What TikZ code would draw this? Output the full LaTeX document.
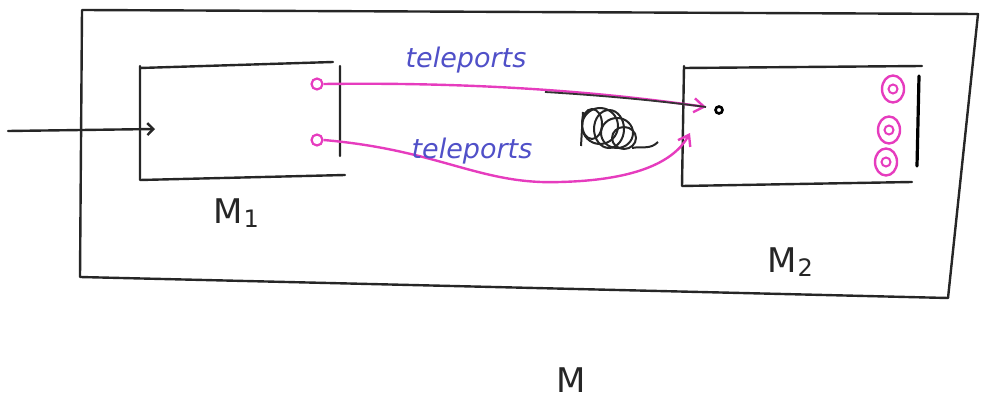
\documentclass[tikz,border=0pt]{standalone}
\usepackage{fontspec}
\setmainfont{DejaVu Sans}
\usetikzlibrary{arrows.meta,shapes.geometric}
\definecolor{pinkc}{RGB}{230,60,190}
\definecolor{bluec}{RGB}{80,80,200}
\tikzset{
  hand/.style={draw=black!85, line width=2.4pt, line cap=round, line join=round},
  conn/.style={draw=pinkc, line width=2.4pt, -{Straight Barb[length=10pt,width=14pt]}},
  port/.style={circle, draw=pinkc, line width=2.2pt, minimum size=11pt, inner sep=0pt},
  dport/.style={ellipse, draw=pinkc, line width=2.4pt, minimum width=22pt, minimum height=27pt, inner sep=0pt},
  dinner/.style={circle, draw=pinkc, line width=2pt, minimum size=9pt, inner sep=0pt},
  lbl/.style={font=\fontsize{34}{36}\selectfont, text=black!85},
  tlbl/.style={font=\fontsize{27}{30}\selectfont\itshape, text=bluec}
}
\newcommand{\sbs}[1]{\kern1pt\raisebox{-4pt}{\fontsize{24}{24}\selectfont #1}}
\begin{document}
\begin{tikzpicture}[x=1pt,y=-1pt]
\useasboundingbox (0,0) rectangle (981,403);
% outer box M
\draw[hand] (82,10) -- (978,14) -- (948,298) -- (80,277) -- cycle;
% M1 box
\draw[hand] (140,68) -- (333,62) (340,66) -- (340,156) (140,66) -- (140,180) (140,180) -- (345,175);
\coordinate (m1in) at (155,129);
\coordinate (start) at (8,131);
\draw[hand, -{Straight Barb[length=6pt,width=12pt]}] (start) -- (m1in);
% ports
\node[port] (p1) at (317,84) {};
\node[port] (p2) at (317,140) {};
% M2 box
\draw[hand] (684,68) -- (922,66) (684,66) -- (682,186) (682,186) -- (912,182);
\draw[draw=black, line width=3.2pt, line cap=round] (919,76) -- (917,166);
\coordinate (t1) at (706,107);
\coordinate (t2) at (690,133);
\node[circle, draw=black, line width=2.6pt, inner sep=0pt, minimum size=7pt] (dot) at (719,110) {};
\node[dport] (q1) at (893,89) {};
\node[dinner] (i1) at (q1.center) {};
\node[dport] (q2) at (889,130) {};
\node[dinner] (i2) at (q2.center) {};
\node[dport] (q3) at (886,162) {};
\node[dinner] (i3) at (q3.center) {};
% connectors
\draw[conn] (p1.east) .. controls (480,82) and (600,92) .. (t1);
\draw[draw=black!80, line width=1.8pt] (545,92) .. controls (610,96) and (660,101) .. (t1);
\draw[conn] (p2.east) .. controls (440,150) and (480,185) .. (560,182) .. controls (640,180) and (675,160) .. (t2);
% scribble
\begin{scope}[black!85, line width=2pt]
  \draw (600,126) ellipse (18 and 18);
  \draw (609,129) ellipse (15 and 19);
  \draw (617,133) ellipse (16 and 15);
  \draw (624,138) ellipse (12 and 11);
  \draw (592,124) ellipse (10 and 15);
  \draw (632,148) .. controls (642,146) and (650,150) .. (658,142);
  \draw (583,112) -- (581,146);
\end{scope}
% labels
\node[tlbl] (lab1) at (466,60) {teleports};
\node[tlbl] (lab2) at (472,151) {teleports};
\node[lbl] (M1) at (236,213) {M\sbs{1}};
\node[lbl] (M2) at (790,262) {M\sbs{2}};
\node[lbl] (M) at (571,380) {M};
\end{tikzpicture}
\end{document}
